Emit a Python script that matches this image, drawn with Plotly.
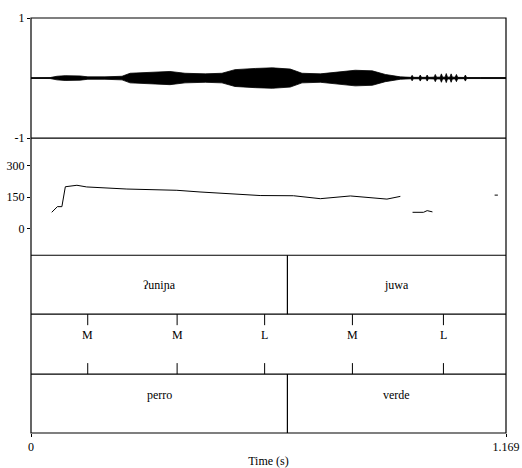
import plotly.graph_objects as go

# ---------------- data ----------------
T_MAX = 1.169

# waveform amplitude envelope
wave_t = [0.000, 0.047, 0.064, 0.084, 0.121, 0.140, 0.182, 0.224, 0.244, 0.293,
          0.342, 0.379, 0.429, 0.470, 0.502, 0.552, 0.594, 0.638, 0.667, 0.712,
          0.761, 0.798, 0.840, 0.872, 0.909,
          0.930, 0.935, 0.938, 0.941, 0.955, 0.958, 0.961, 0.972, 0.975, 0.978,
          0.992, 0.995, 0.998, 1.007, 1.010, 1.013, 1.019, 1.022, 1.025, 1.031,
          1.034, 1.037, 1.044, 1.047, 1.050, 1.066, 1.069, 1.072, 1.106, 1.169]
wave_env = [0.006, 0.008, 0.03, 0.04, 0.035, 0.02, 0.02, 0.03, 0.08, 0.10,
            0.11, 0.08, 0.07, 0.08, 0.14, 0.16, 0.17, 0.15, 0.08, 0.07,
            0.10, 0.13, 0.12, 0.06, 0.02,
            0.012, 0.012, 0.045, 0.012, 0.012, 0.05, 0.012, 0.012, 0.05, 0.012,
            0.015, 0.06, 0.015, 0.015, 0.07, 0.015, 0.015, 0.075, 0.015, 0.015,
            0.07, 0.015, 0.015, 0.06, 0.012, 0.01, 0.05, 0.008, 0.008, 0.008]

# pitch contour (Hz), None = unvoiced gap
pitch_t = [0.051, 0.065, 0.076, 0.0845, 0.113, 0.137, 0.236, 0.334, 0.359, 0.416,
           0.564, 0.646, 0.712, 0.786, 0.876, 0.909, None,
           0.939, 0.966, 0.975, 0.988, None,
           1.141, 1.149]
pitch_hz = [78, 105, 105, 200, 207, 199, 189, 183, 183, 175,
            158, 157, 143, 156, 141, 154, None,
            78, 78, 86, 80, None,
            160, 160]

tier1_bounds = [0.0, 0.631, T_MAX]
tier1_labels = ["ʔuniɲa", "juwa"]
tone_times = [0.1396, 0.3596, 0.575, 0.791, 1.015]
tone_labels = ["M", "M", "L", "M", "L"]
tier3_bounds = [0.0, 0.631, T_MAX]
tier3_labels = ["perro", "verde"]

wave_ticks = [-1, 1]
pitch_ticks = [0, 150, 300]
x_ticks = [0, T_MAX]
x_ticktext = ["0", "1.169"]

# ---------------- layout geometry ----------------
D_T3 = [0.0, 0.14196]
D_T2 = [0.14196, 0.28633]
D_T1 = [0.28633, 0.42830]
D_P = [0.42830, 0.71054]
D_W = [0.71054, 1.0]

FONT = "Liberation Serif, Times New Roman, serif"
fig = go.Figure()

# waveform envelope
fig.add_trace(go.Scatter(x=wave_t, y=wave_env, mode="lines",
                         line=dict(color="black", width=0.8),
                         xaxis="x", yaxis="y", hoverinfo="skip"))
fig.add_trace(go.Scatter(x=wave_t, y=[-v for v in wave_env], mode="lines",
                         fill="tonexty", fillcolor="black",
                         line=dict(color="black", width=0.8),
                         xaxis="x", yaxis="y", hoverinfo="skip"))
fig.add_trace(go.Scatter(x=[0, T_MAX], y=[0, 0], mode="lines",
                         line=dict(color="black", width=1),
                         xaxis="x", yaxis="y", hoverinfo="skip"))

# pitch
fig.add_trace(go.Scatter(x=pitch_t, y=pitch_hz, mode="lines", connectgaps=False,
                         line=dict(color="black", width=1),
                         xaxis="x", yaxis="y2", hoverinfo="skip"))

shapes = []
LW = 1.2
# outer frame
shapes.append(dict(type="rect", xref="paper", yref="paper", x0=0, x1=1, y0=0, y1=1,
                   line=dict(color="black", width=LW)))
for yv in [D_T3[1], D_T2[1], D_T1[1], D_P[1]]:
    shapes.append(dict(type="line", xref="paper", yref="paper", x0=0, x1=1, y0=yv, y1=yv,
                       line=dict(color="black", width=LW)))

annotations = []
# tier 1 intervals
for b in tier1_bounds[1:-1]:
    shapes.append(dict(type="line", xref="x", yref="paper", x0=b, x1=b, y0=D_T1[0], y1=D_T1[1],
                       line=dict(color="black", width=LW)))
for i, lab in enumerate(tier1_labels):
    annotations.append(dict(x=(tier1_bounds[i] + tier1_bounds[i + 1]) / 2, y=(D_T1[0] + D_T1[1]) / 2,
                            xref="x", yref="paper", text=lab, showarrow=False,
                            font=dict(family=FONT, size=12, color="black")))
# tier 3 intervals
for b in tier3_bounds[1:-1]:
    shapes.append(dict(type="line", xref="x", yref="paper", x0=b, x1=b, y0=D_T3[0], y1=D_T3[1],
                       line=dict(color="black", width=LW)))
for i, lab in enumerate(tier3_labels):
    annotations.append(dict(x=(tier3_bounds[i] + tier3_bounds[i + 1]) / 2, y=(D_T3[0] + D_T3[1]) / 2,
                            xref="x", yref="paper", text=lab, showarrow=False,
                            font=dict(family=FONT, size=12, color="black")))
# tone tier points
mark = 11 / 415.6
for t, lab in zip(tone_times, tone_labels):
    shapes.append(dict(type="line", xref="x", yref="paper", x0=t, x1=t, y0=D_T2[1] - mark, y1=D_T2[1],
                       line=dict(color="black", width=1)))
    shapes.append(dict(type="line", xref="x", yref="paper", x0=t, x1=t, y0=D_T2[0], y1=D_T2[0] + mark,
                       line=dict(color="black", width=1)))
    annotations.append(dict(x=t, y=(D_T2[0] + D_T2[1]) / 2, xref="x", yref="paper", text=lab,
                            showarrow=False, font=dict(family=FONT, size=12, color="black")))

tickfont = dict(family=FONT, size=12, color="black")
common_y = dict(showgrid=False, zeroline=False, showline=False, ticks="outside", ticklen=3,
                tickcolor="black", tickwidth=1, tickfont=tickfont, fixedrange=True,
                automargin=False)

fig.update_layout(
    width=522, height=468,
    margin=dict(l=31, r=16.3, t=17.7, b=34.7, autoexpand=False),
    paper_bgcolor="white", plot_bgcolor="white",
    showlegend=False, hovermode=False,
    shapes=shapes, annotations=annotations,
    xaxis=dict(range=[0, T_MAX], anchor="free", position=0, showgrid=False, zeroline=False,
               showline=False, automargin=False, ticklabeloverflow="allow", fixedrange=True,
               ticks="outside", ticklen=3, tickcolor="black", tickvals=x_ticks, ticktext=x_ticktext,
               tickfont=tickfont, title=dict(text="Time (s)", font=dict(family=FONT, size=12, color="black"),
                                             standoff=5)),
    yaxis=dict(domain=D_W, range=[-1, 1], tickvals=wave_ticks, ticktext=[str(v) for v in wave_ticks],
               anchor="x", **common_y),
    yaxis2=dict(domain=D_P, range=[-127, 432], tickvals=pitch_ticks, anchor="x", **common_y),
    yaxis3=dict(domain=D_T1, range=[0, 1], visible=False, anchor="x"),
    yaxis4=dict(domain=D_T2, range=[0, 1], visible=False, anchor="x"),
    yaxis5=dict(domain=D_T3, range=[0, 1], visible=False, anchor="x"),
)

# remove the default page margin so the figure fills the 522x468 window exactly
fig.write_html("out.html", config={"displayModeBar": False, "staticPlot": True},
               post_script="document.body.style.margin='0px';document.body.style.overflow='hidden';")
